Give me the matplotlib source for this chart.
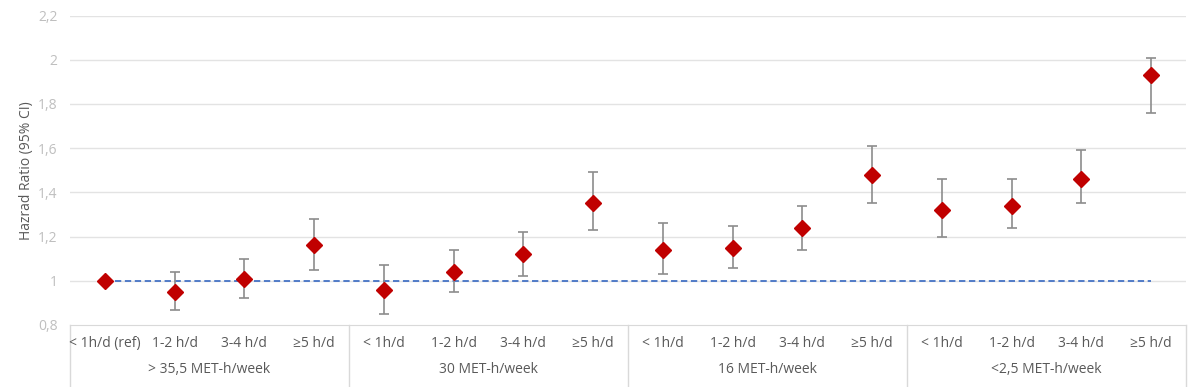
import matplotlib
matplotlib.use("Agg")
import matplotlib.pyplot as plt
from matplotlib.ticker import FixedLocator, FuncFormatter

plt.rcParams['font.family'] = ['Open Sans', 'DejaVu Sans']

groups = ["> 35,5 MET-h/week", "30 MET-h/week", "16 MET-h/week", "<2,5 MET-h/week"]
sub_labels = ["< 1h/d (ref)", "1-2 h/d", "3-4 h/d", "≥5 h/d",
              "< 1h/d", "1-2 h/d", "3-4 h/d", "≥5 h/d",
              "< 1h/d", "1-2 h/d", "3-4 h/d", "≥5 h/d",
              "< 1h/d", "1-2 h/d", "3-4 h/d", "≥5 h/d"]
hr = [1.00, 0.95, 1.01, 1.16,
      0.96, 1.04, 1.12, 1.35,
      1.14, 1.15, 1.24, 1.48,
      1.32, 1.34, 1.46, 1.93]
ci_low = [1.00, 0.87, 0.92, 1.05,
          0.85, 0.95, 1.02, 1.23,
          1.03, 1.06, 1.14, 1.35,
          1.20, 1.24, 1.35, 1.76]
ci_high = [1.00, 1.04, 1.10, 1.28,
           1.07, 1.14, 1.22, 1.49,
           1.26, 1.25, 1.34, 1.61,
           1.46, 1.46, 1.59, 2.01]
y_ticks = [0.8, 1.0, 1.2, 1.4, 1.6, 1.8, 2.0, 2.2]

fig = plt.figure(figsize=(12, 3.87), dpi=100)
ax = fig.add_axes([70/1200, 1-325/387, (1186-70)/1200, (325-15.5)/387])

n = len(hr)
x = list(range(n))
ax.set_xlim(-0.5, n - 0.5)
ax.set_ylim(0.8, 2.2)

for yt in y_ticks[1:]:
    ax.axhline(yt, color='#e3e3e3', lw=1, zorder=0)

# reference line
ax.plot([x[0], x[-1]], [1.0, 1.0], color='#4472C4', lw=1.3, ls=(0, (3.5, 2)), zorder=1)

yerr_lo = [h - l for h, l in zip(hr, ci_low)]
yerr_hi = [u - h for h, u in zip(hr, ci_high)]
err_idx = [i for i in x if yerr_lo[i] > 0 or yerr_hi[i] > 0]
ax.errorbar([x[i] for i in err_idx], [hr[i] for i in err_idx],
            yerr=[[yerr_lo[i] for i in err_idx], [yerr_hi[i] for i in err_idx]],
            fmt='none', ecolor='#8c8c8c', elinewidth=1.2, capsize=3.5, capthick=1.2, zorder=2)
ax.plot(x, hr, ls='none', marker='D', markersize=8.5, color='#C00000', zorder=3)

for s in ['top', 'right', 'left']:
    ax.spines[s].set_visible(False)
ax.spines['bottom'].set_color('#d9d9d9')

ax.yaxis.set_major_locator(FixedLocator(y_ticks))
ax.yaxis.set_major_formatter(FuncFormatter(lambda v, p: ('%g' % round(v, 1)).replace('.', ',')))
ax.tick_params(axis='y', length=0, labelsize=10, labelcolor='#bfbfbf', pad=9)
ax.set_xticks([])
ax.set_ylabel("Hazrad Ratio (95% CI)", fontsize=10, color='#595959', labelpad=3)

# category labels
trans = ax.get_xaxis_transform()
for i, lab in enumerate(sub_labels):
    ax.text(x[i], -0.06, lab, transform=trans, ha='center', va='center',
            fontsize=10, color='#595959', clip_on=False)
per = 4
for g, name in enumerate(groups):
    c = (g * per + (g + 1) * per - 1) / 2
    ax.text(c, -0.145, name, transform=trans, ha='center', va='center',
            fontsize=10, color='#595959', clip_on=False)
for g in range(len(groups) + 1):
    xb = g * per - 0.5
    ax.plot([xb, xb], [0, -0.2], transform=trans, color='#d9d9d9', lw=1, clip_on=False)

fig.savefig("out.png", dpi=100)
